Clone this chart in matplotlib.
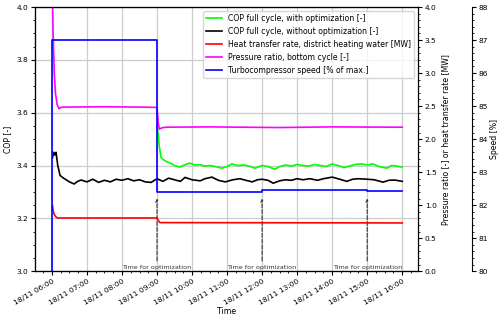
import datetime
import matplotlib
matplotlib.use('Agg')
import matplotlib.pyplot as plt
import matplotlib.dates as mdates
from matplotlib.ticker import MultipleLocator

plt.rcParams['font.family'] = 'DejaVu Sans'
plt.rcParams['font.size'] = 5.5

day = datetime.datetime(2019, 11, 18)

def hm(s):
    h, m = s.split(':')
    return day + datetime.timedelta(hours=int(h), minutes=int(m))

# COP without optimization (black)
cop_ref_t = ['06:01', '06:03', '06:05', '06:07', '06:10', '06:14', '06:20', '06:30',
             '06:38', '06:44', '06:50', '07:00', '07:10', '07:20', '07:30', '07:40',
             '07:50', '08:00', '08:10', '08:20', '08:30', '08:40', '08:50', '09:00',
             '09:05', '09:10', '09:20', '09:30', '09:40', '09:48', '10:00', '10:14',
             '10:22', '10:34', '10:45', '10:57', '11:10', '11:22', '11:32', '11:43',
             '11:52', '12:00', '12:10', '12:19', '12:30', '12:40', '12:50', '13:00',
             '13:10', '13:22', '13:35', '13:45', '14:00', '14:10', '14:25', '14:35',
             '14:45', '15:00', '15:12', '15:27', '15:37', '15:47', '16:00']
cop_ref = [3.43, 3.45, 3.44, 3.45, 3.40, 3.362, 3.352, 3.338,
           3.330, 3.340, 3.345, 3.338, 3.348, 3.336, 3.344, 3.338,
           3.348, 3.344, 3.350, 3.342, 3.346, 3.338, 3.336, 3.350,
           3.345, 3.340, 3.352, 3.346, 3.340, 3.355, 3.346, 3.342,
           3.350, 3.356, 3.344, 3.338, 3.346, 3.350, 3.344, 3.338,
           3.346, 3.348, 3.344, 3.333, 3.342, 3.346, 3.344, 3.350,
           3.346, 3.350, 3.344, 3.350, 3.356, 3.350, 3.340, 3.348,
           3.350, 3.348, 3.346, 3.337, 3.344, 3.345, 3.340]

# COP with optimization (green), only after the first optimization
cop_opt_t = ['09:00', '09:02', '09:04', '09:07', '09:11', '09:16', '09:22', '09:30',
             '09:39', '09:47', '09:56', '10:05', '10:14', '10:22', '10:31', '10:40',
             '10:51', '11:00', '11:08', '11:18', '11:30', '11:40', '11:48', '12:00',
             '12:10', '12:22', '12:30', '12:40', '12:50', '13:00', '13:10', '13:20',
             '13:30', '13:40', '13:50', '14:00', '14:10', '14:20', '14:30', '14:40',
             '14:50', '15:00', '15:10', '15:20', '15:34', '15:42', '15:50', '16:00']
cop_opt = [3.55, 3.52, 3.47, 3.43, 3.422, 3.415, 3.410, 3.400,
           3.394, 3.402, 3.409, 3.402, 3.403, 3.398, 3.400, 3.396,
           3.390, 3.396, 3.406, 3.400, 3.402, 3.396, 3.390, 3.400,
           3.396, 3.386, 3.396, 3.402, 3.398, 3.404, 3.400, 3.398,
           3.404, 3.400, 3.396, 3.406, 3.400, 3.392, 3.398, 3.404,
           3.406, 3.402, 3.406, 3.396, 3.390, 3.400, 3.398, 3.394]

# heat transfer rate, district heating water [MW]
heat_t = ['06:01', '06:02', '06:04', '06:07', '06:10', '09:00', '09:02', '09:05', '16:00']
heat = [0.99, 0.92, 0.86, 0.82, 0.805, 0.805, 0.77, 0.735, 0.73]

# pressure ratio, bottom cycle [-]
pr_t = ['06:00', '06:02', '06:04', '06:06', '06:09', '06:12', '06:15', '06:20',
        '07:30', '08:30', '09:00', '09:02', '09:04', '09:08', '09:15', '10:30',
        '12:30', '14:00', '16:00']
pr = [4.6, 3.6, 3.0, 2.7, 2.52, 2.46, 2.48, 2.485,
      2.49, 2.485, 2.48, 2.25, 2.15, 2.17, 2.18, 2.185,
      2.175, 2.185, 2.18]

# turbocompressor speed [% of max.]
spd_t = ['06:00', '06:00', '09:00', '09:00', '12:00', '12:00', '15:00', '15:00', '16:00']
spd = [0, 87.0, 87.0, 82.40, 82.40, 82.45, 82.45, 82.42, 82.42]

opt_times = ['09:00', '12:00', '15:00']

fig = plt.figure(figsize=(5, 3.22), dpi=100)
host = fig.add_axes([0.07, 0.158, 0.766, 0.82])
par1 = host.twinx()
par2 = host.twinx()
par2.spines['right'].set_position(('axes', 1.141))

host.grid(True, color='#cccccc', lw=0.9)
host.set_axisbelow(True)

l1, = host.plot([hm(t) for t in cop_opt_t], cop_opt, color='#00ff00', lw=1.2,
                label='COP full cycle, with optimization [-]')
l2, = host.plot([hm(t) for t in cop_ref_t], cop_ref, color='black', lw=1.2,
                label='COP full cycle, without optimization [-]')
l3, = par1.plot([hm(t) for t in heat_t], heat, color='red', lw=1.2,
                label='Heat transfer rate, district heating water [MW]')
l4, = par1.plot([hm(t) for t in pr_t], pr, color='magenta', lw=1.2,
                label='Pressure ratio, bottom cycle [-]')
l5, = par2.plot([hm(t) for t in spd_t], spd, color='blue', lw=1.2,
                label='Turbocompressor speed [% of max.]')

for t in opt_times:
    host.annotate('Time for optimization', xy=(hm(t), 3.275), xytext=(hm(t), 3.004),
                  ha='center', va='bottom', fontsize=4.6, color='#333333',
                  arrowprops=dict(arrowstyle='->', color='#333333', lw=0.8,
                                  linestyle='--', shrinkA=1, shrinkB=0))

host.set_xlim(hm('05:31'), hm('16:27'))
host.set_ylim(3.0, 4.0)
par1.set_ylim(0, 4.0)
par2.set_ylim(80, 88)

host.xaxis.set_major_locator(mdates.HourLocator(byhour=range(6, 17)))
host.xaxis.set_minor_locator(mdates.MinuteLocator(byminute=[15, 30, 45]))
host.xaxis.set_major_formatter(mdates.DateFormatter('%d/%m %H:%M'))
plt.setp(host.get_xticklabels(), rotation=30, ha='right', rotation_mode='anchor')

host.yaxis.set_major_locator(MultipleLocator(0.2))
host.yaxis.set_minor_locator(MultipleLocator(0.05))
par1.yaxis.set_major_locator(MultipleLocator(0.5))
par1.yaxis.set_minor_locator(MultipleLocator(0.1))
par2.yaxis.set_major_locator(MultipleLocator(1))
par2.yaxis.set_minor_locator(MultipleLocator(0.2))

for ax in (host, par1, par2):
    ax.tick_params(which='major', labelsize=5.4, length=3, width=0.8, pad=2)
    ax.tick_params(which='minor', length=1.6, width=0.6)

host.set_xlabel('Time', fontsize=5.6, labelpad=1)
host.set_ylabel('COP [-]', fontsize=5.6, labelpad=3)
par1.set_ylabel('Pressure ratio [-] or heat transfer rate [MW]', fontsize=5.6, labelpad=3)
par2.set_ylabel('Speed [%]', fontsize=5.6, labelpad=1)

lines = [l1, l2, l3, l4, l5]
par2.legend(lines, [l.get_label() for l in lines], loc='upper right',
            fontsize=5.6, borderaxespad=0.5)

fig.savefig('out.png', dpi=100)
